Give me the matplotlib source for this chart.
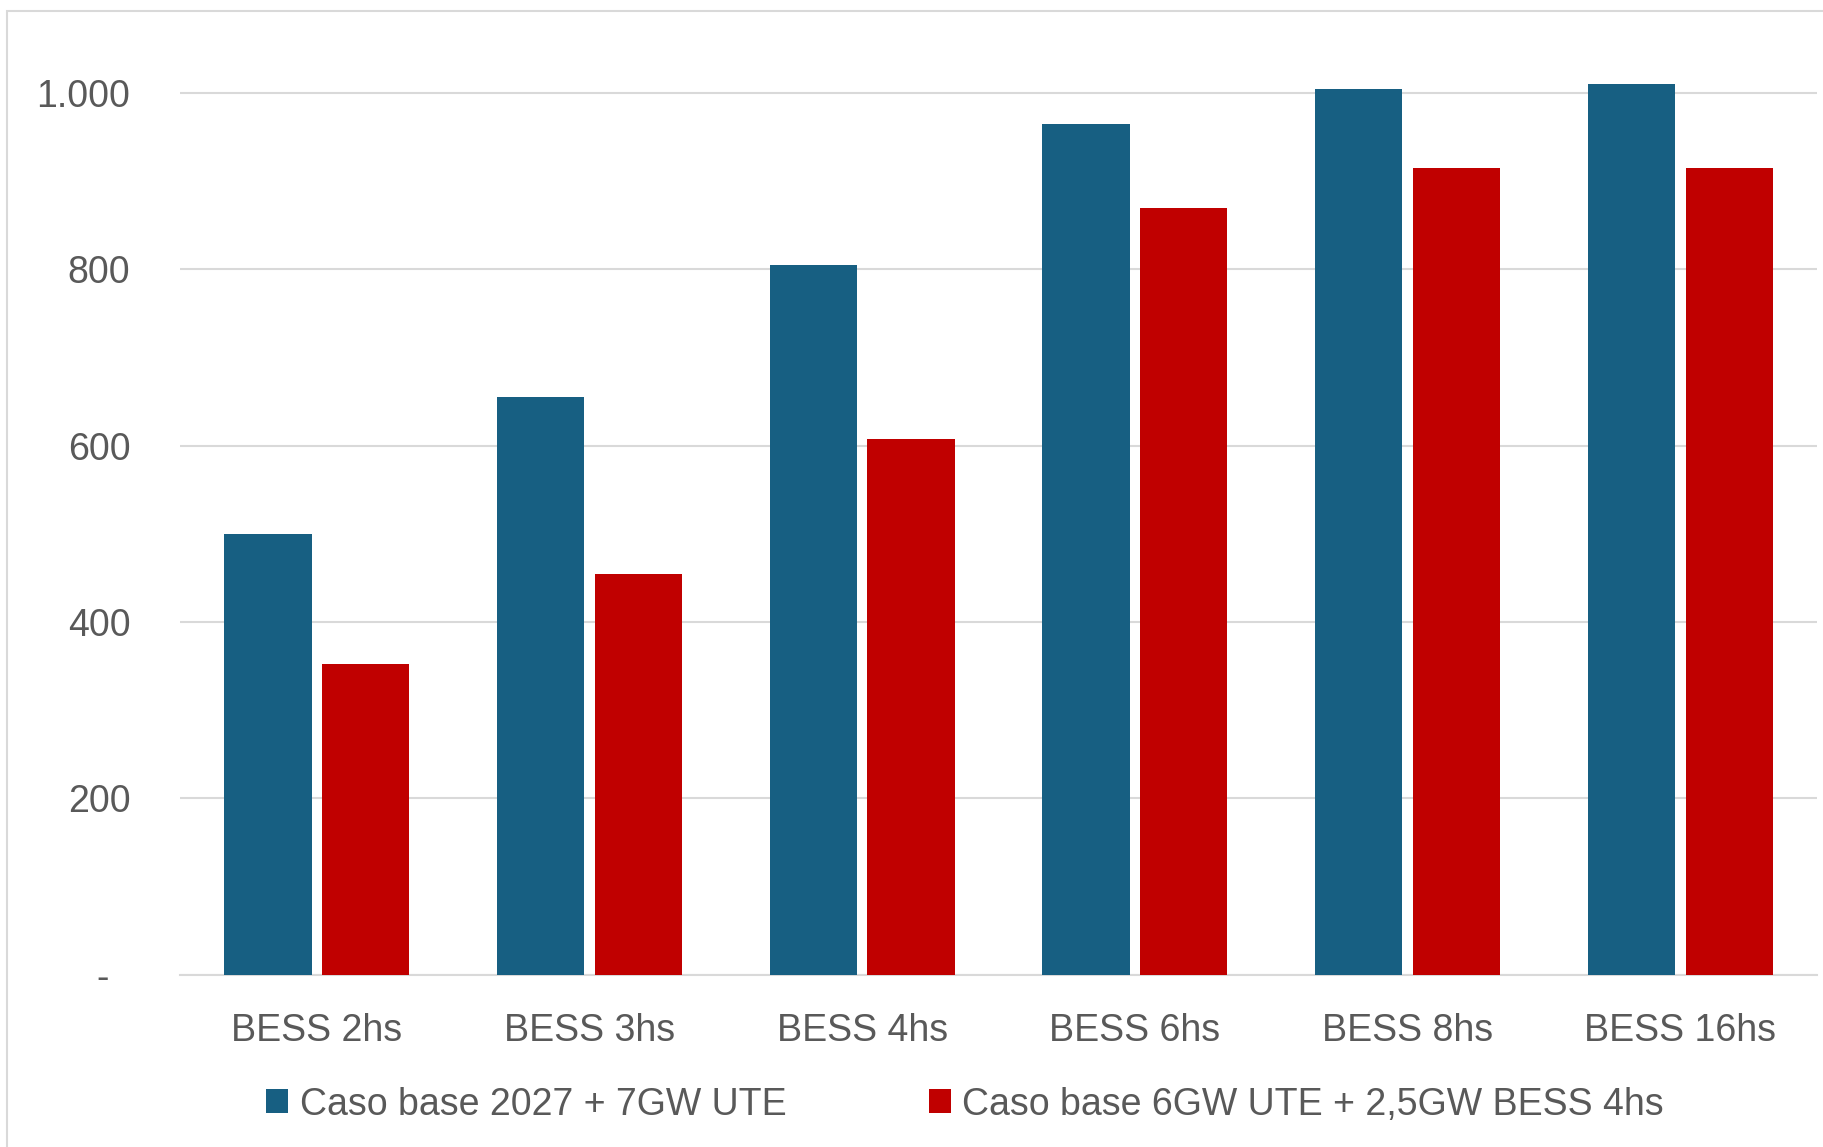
import matplotlib.pyplot as plt
import numpy as np
from matplotlib.patches import Rectangle
from matplotlib.ticker import FuncFormatter

plt.rcParams['font.family'] = ['Liberation Sans', 'DejaVu Sans']

categories = ['BESS 2hs', 'BESS 3hs', 'BESS 4hs', 'BESS 6hs', 'BESS 8hs', 'BESS 16hs']
caso_7gw = [500, 655, 805, 965, 1005, 1010]
caso_bess = [352, 455, 608, 870, 915, 915]
series_names = ['Caso base 2027 + 7GW UTE', 'Caso base 6GW UTE + 2,5GW BESS 4hs']
yticks = [0, 200, 400, 600, 800, 1000]

blue = '#175F82'
red = '#C00000'
txt = '#595959'
grid = '#D9D9D9'

fig = plt.figure(figsize=(18.24, 11.47), dpi=100)
ax = fig.add_axes([0.0989, 0.1503, 0.8971, 0.8300])

x = np.arange(len(categories))
w = 0.32
off = 0.179
ax.bar(x - off, caso_7gw, w, color=blue, label=series_names[0], zorder=3)
ax.bar(x + off, caso_bess, w, color=red, label=series_names[1], zorder=3)

ax.set_xlim(-0.5, len(categories) - 0.5)
ax.set_ylim(0, 1080)
ax.set_yticks(yticks)
ax.yaxis.set_major_formatter(FuncFormatter(
    lambda v, p: '-  ' if v == 0 else f'{int(v):,}'.replace(',', '.')))
ax.set_xticks(x)
ax.set_xticklabels(categories)

ax.grid(axis='y', color=grid, linewidth=1.5, zorder=0)
for s in ['top', 'right', 'left']:
    ax.spines[s].set_visible(False)
ax.spines['bottom'].set_color(grid)
ax.spines['bottom'].set_linewidth(1.5)
ax.tick_params(axis='both', length=0, labelsize=27, colors=txt)
ax.tick_params(axis='x', pad=28)
ax.tick_params(axis='y', pad=36)

leg = fig.legend(loc='center', bbox_to_anchor=(0.529, 0.037), ncol=2, frameon=False,
                 fontsize=27, handlelength=0.6, handleheight=0.6,
                 handletextpad=0.3, columnspacing=3.8)
for t in leg.get_texts():
    t.set_color(txt)

# light frame around the chart area
fig.patches.append(Rectangle((0.004, -0.5), 2, 0.5 + 0.9907, transform=fig.transFigure,
                             fill=False, edgecolor=grid, linewidth=1.5))

fig.savefig('out.png', dpi=100)
